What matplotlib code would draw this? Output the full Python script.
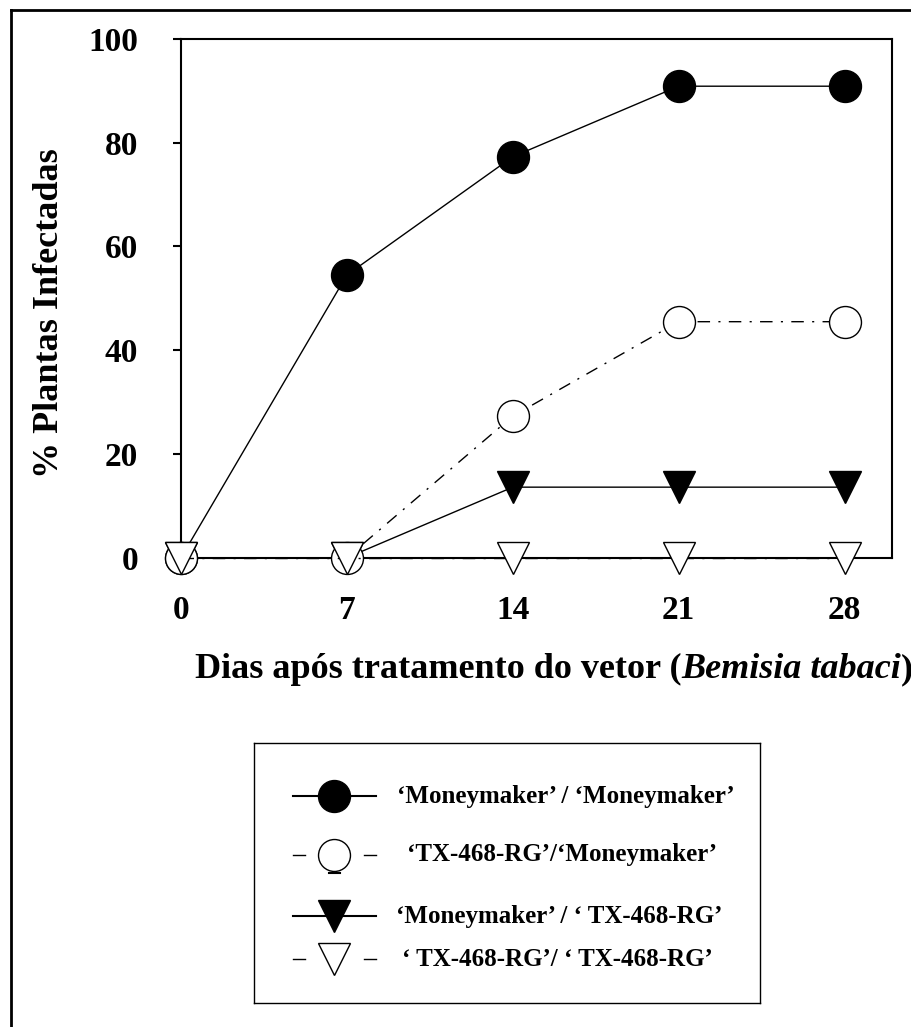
import matplotlib
matplotlib.use("Agg")
import matplotlib.pyplot as plt
from matplotlib.lines import Line2D

# days after vector treatment and % infected plants per graft combination
days = [0, 7, 14, 21, 28]
mm_mm = [0, 54.5, 77.3, 90.9, 90.9]
tx_mm = [0, 0, 27.3, 45.5, 45.5]
mm_tx = [0, 0, 13.6, 13.6, 13.6]
tx_tx = [0, 0, 0, 0, 0]

yticks = [0, 20, 40, 60, 80, 100]
labels = ["\u2018Moneymaker\u2019 / \u2018Moneymaker\u2019",
          "\u2018TX-468-RG\u2019/\u2018Moneymaker\u2019",
          "\u2018Moneymaker\u2019 / \u2018 TX-468-RG\u2019",
          "\u2018 TX-468-RG\u2019/ \u2018 TX-468-RG\u2019"]

plt.rcParams['font.family'] = ['Liberation Serif', 'DejaVu Serif']
plt.rcParams['font.weight'] = 'bold'

W, H = 912, 1027
fig = plt.figure(figsize=(W / 100, H / 100), dpi=100)

ax = fig.add_axes([181 / W, 1 - 557.7 / H, 711 / W, 518.7 / H])
ax.set_xlim(0, 30)
ax.set_ylim(0, 100)

dashdot = (0, (9, 6, 1.5, 6))
ms = 23
ax.plot(days, mm_mm, color='black', lw=1, marker='o', ms=ms, mfc='black',
        mec='black', clip_on=False, zorder=4)
ax.plot(days, mm_tx, color='black', lw=1, marker='v', ms=ms, mfc='black',
        mec='black', clip_on=False, zorder=5)
ax.plot(days, tx_mm, color='black', lw=1, ls=dashdot, marker='o', ms=ms,
        mfc='white', mec='black', mew=1, clip_on=False, zorder=6)
ax.plot(days, tx_tx, color='black', lw=1, ls=dashdot, marker='v', ms=ms,
        mfc='white', mec='black', mew=1, clip_on=False, zorder=7)

for s in ax.spines.values():
    s.set_linewidth(1.5)
ax.set_xticks(days)
ax.set_yticks(yticks)
ax.tick_params(axis='x', length=0, pad=27, labelsize=24)
ax.tick_params(axis='y', length=6, width=1.5, pad=25, labelsize=24)

fig.text(50 / W, 1 - 313 / H, "% Plantas Infectadas", rotation=90,
         ha='center', va='center', fontsize=26)

# x axis title, with the species name in italics
t1 = fig.text(195 / W, 1 - 678 / H, "Dias após tratamento do vetor (",
              ha='left', va='baseline', fontsize=26)
t2 = ax.annotate("Bemisia tabaci", xy=(1, 0), xycoords=t1, va='bottom',
                 fontsize=26, style='italic', annotation_clip=False)
ax.annotate(")", xy=(1, 0), xycoords=t2, va='bottom', fontsize=26,
            annotation_clip=False)

# outer frame (only the left and top edges are inside the picture)
fig.add_artist(Line2D([11 / W, 11 / W], [0, 1 - 10 / H], color='black', lw=2))
fig.add_artist(Line2D([11 / W, 1], [1 - 10 / H, 1 - 10 / H], color='black', lw=2))

# hand-built legend box
lax = fig.add_axes([254 / W, 1 - 1003 / H, 506 / W, 260 / H])
lax.set_xlim(0, 506)
lax.set_ylim(260, 0)
lax.set_xticks([])
lax.set_yticks([])
for s in lax.spines.values():
    s.set_linewidth(1)

rows = [53, 112, 173, 216]
text_x = [143, 153, 142, 148]
styles = [('o', 'black', '-'), ('o', 'white', '--'),
          ('v', 'black', '-'), ('v', 'white', '--')]
for y, tx, lab, (mk, fc, ls) in zip(rows, text_x, labels, styles):
    if ls == '-':
        lax.plot([39, 122], [y, y], color='black', lw=1.5)
    else:
        lax.plot([39, 51], [y, y], color='black', lw=1)
        lax.plot([110, 122], [y, y], color='black', lw=1)
    lax.plot([80], [y], marker=mk, ms=ms, mfc=fc, mec='black', mew=1)
    lax.text(tx, y, lab, ha='left', va='center', fontsize=18)
lax.plot([75, 86], [130, 130], color='black', lw=1.5)

fig.savefig("out.png", dpi=100)
